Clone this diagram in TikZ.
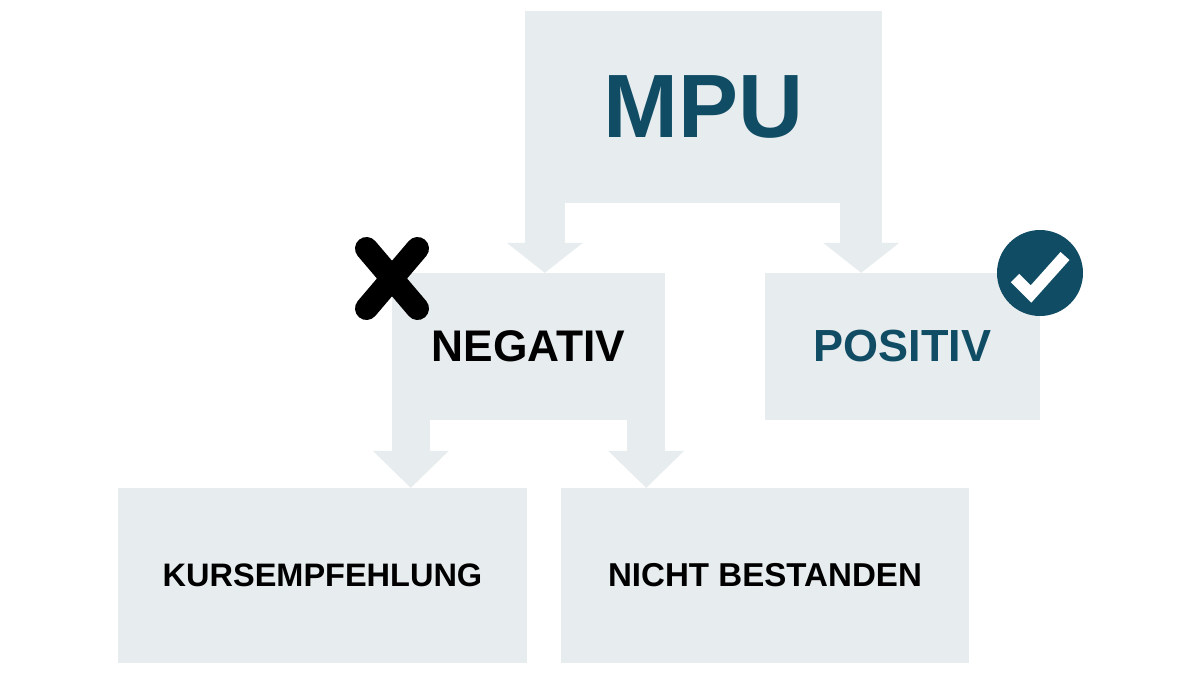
\documentclass[tikz,border=0pt]{standalone}
\usepackage{fontspec}
\setmainfont{Liberation Sans}
\usetikzlibrary{arrows.meta}
\definecolor{boxfill}{HTML}{E7ECEE}
\definecolor{teal}{HTML}{104D65}
\tikzset{
  box/.style={rectangle, fill=boxfill, draw=none, inner sep=0pt},
  label/.style={font=\bfseries\fontsize{#1}{#1}\selectfont},
  blockarrow/.style={draw=boxfill, line width=#1pt, line cap=butt},
  tipa/.style={-{Triangle[length=30pt 0 0, width=76pt 0 0, line width=0pt]}},
  tipb/.style={-{Triangle[length=37pt 0 0, width=76pt 0 0, line width=0pt]}},
}
\begin{document}
\begin{tikzpicture}[x=1pt,y=-1pt]
\useasboundingbox[fill=white] (0,0) rectangle (1200,675);
% boxes
\node[box, minimum width=357pt, minimum height=192pt, text=teal, label=90] (mpu) at (703.5,107) {MPU};
\node[box, minimum width=273pt, minimum height=147pt, label=44.3] (neg) at (528.5,346.5) {NEGATIV};
\node[box, minimum width=275pt, minimum height=147pt, text=teal, label=45] (pos) at (902.5,346.5) {POSITIV};
\node[box, minimum width=409pt, minimum height=175pt, label=32.5] (kurs) at (322.5,575.5) {KURSEMPFEHLUNG};
\node[box, minimum width=408pt, minimum height=175pt, label=33.1] (nicht) at (765,575.5) {NICHT BESTANDEN};
% arrow anchors
\coordinate (a1) at ([xshift=20pt]mpu.south west);
\coordinate (a2) at ([xshift=-21pt]mpu.south east);
\coordinate (b1) at ([xshift=19pt]neg.south west);
\coordinate (b2) at ([xshift=-19pt]neg.south east);
\draw[blockarrow=40, tipa] (a1) -- (a1 |- neg.north);
\draw[blockarrow=42, tipa] (a2) -- (a2 |- pos.north);
\draw[blockarrow=38, tipb] (b1) -- (b1 |- kurs.north);
\draw[blockarrow=38, tipb] (b2) -- (b2 |- nicht.north);
% cross mark
\coordinate (x1) at (366.5,248.5);
\coordinate (x2) at (417.5,308.5);
\coordinate (x3) at (417.5,248.5);
\coordinate (x4) at (366.5,308.5);
\draw[line width=23pt, line cap=round, black] (x1) -- (x2) (x3) -- (x4);
% check mark
\node[circle, fill=teal, minimum size=86pt, inner sep=0pt] (chk) at (1040,273) {};
\draw[white, line width=12pt, line cap=butt, line join=miter] ([shift={(-25pt,-5pt)}]chk.center) -- ([shift={(-9pt,-21pt)}]chk.center) -- ([shift={(25pt,17pt)}]chk.center);
\end{tikzpicture}
\end{document}
